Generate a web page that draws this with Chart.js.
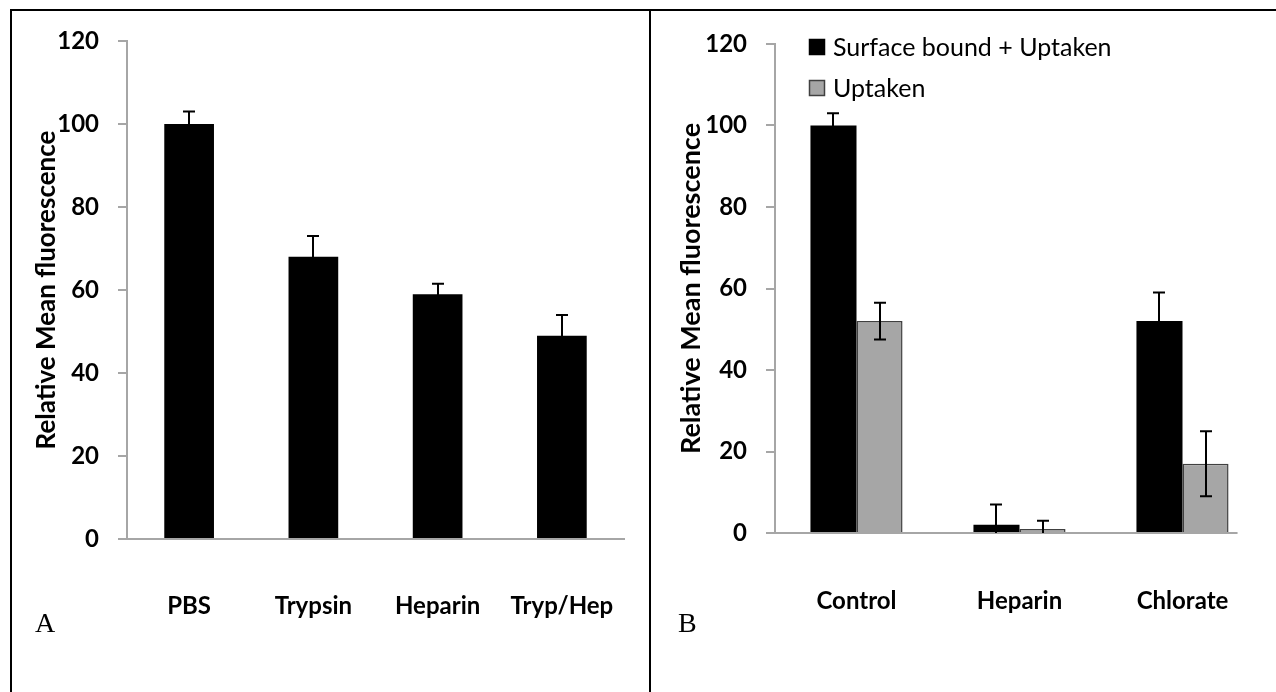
<!DOCTYPE html>
<html>
<head>
<meta charset="utf-8">
<script src="https://cdn.jsdelivr.net/npm/chart.js@4.4.1/dist/chart.umd.min.js"></script>
<style>
  html, body { margin: 0; padding: 0; background: #fff; }
  body { width: 1276px; height: 692px; position: relative; overflow: hidden; }
  canvas { position: absolute; top: 0; }
  #panelA { left: 0; }
  #panelB { left: 650px; }
  .rule { position: absolute; background: #000; z-index: 2; }
</style>
</head>
<body>
<div class="rule" style="left:10px; top:9px; width:1266px; height:2px;"></div>
<div class="rule" style="left:10px; top:9px; width:2px; height:683px;"></div>
<div class="rule" style="left:649px; top:9px; width:2px; height:683px;"></div>
<canvas id="panelA" width="650" height="692"></canvas>
<canvas id="panelB" width="626" height="692"></canvas>
<script>
// Panel A: treatments before binding
const categoriesA = ['PBS', 'Trypsin', 'Heparin', 'Tryp/Hep'];
const meanA = [100, 68, 59, 49];
const errA = [3, 5, 2.5, 5];

// Panel B: total vs. internalised signal
const categoriesB = ['Control', 'Heparin', 'Chlorate'];
const boundUptaken = [100, 2, 52];
const boundUptakenErr = [3, 5, 7];
const uptakenOnly = [52, 1, 17];
const uptakenOnlyErr = [4.5, 2, 8];

const yTickValues = [0, 20, 40, 60, 80, 100, 120];
const yTitle = 'Relative Mean fluorescence';

const SANS = 'Lato, "Open Sans", "DejaVu Sans", sans-serif';
const AXIS_GREY = '#a6a6a6';

// Error bars (symmetric, clipped to the plot area)
const errorBars = {
  id: 'errorBars',
  afterDatasetsDraw(chart) {
    const { ctx, chartArea } = chart;
    const y = chart.scales.y;
    ctx.save();
    ctx.beginPath();
    ctx.rect(chartArea.left, 0, chartArea.right - chartArea.left, chartArea.bottom);
    ctx.clip();
    ctx.strokeStyle = '#000';
    ctx.lineWidth = 2;
    chart.data.datasets.forEach((ds, i) => {
      const meta = chart.getDatasetMeta(i);
      meta.data.forEach((el, j) => {
        const v = ds.data[j], e = ds.errors[j];
        const x = Math.round(el.x);
        const yHi = y.getPixelForValue(v + e);
        const yLo = y.getPixelForValue(v - e);
        ctx.beginPath();
        ctx.moveTo(x, yHi); ctx.lineTo(x, yLo);
        ctx.moveTo(x - 6, yHi); ctx.lineTo(x + 6, yHi);
        ctx.moveTo(x - 6, yLo); ctx.lineTo(x + 6, yLo);
        ctx.stroke();
      });
    });
    ctx.restore();
  }
};

// Panel letter under the axis
const panelLetter = {
  id: 'panelLetter',
  afterDraw(chart, args, opts) {
    const { ctx } = chart;
    ctx.save();
    ctx.font = '28px "Liberation Serif", "Times New Roman", serif';
    ctx.fillStyle = '#000';
    ctx.textBaseline = 'alphabetic';
    ctx.fillText(opts.text, opts.x, opts.y);
    ctx.restore();
  }
};

// Category baseline ending just past the last bar
const baseline = {
  id: 'baseline',
  beforeDatasetsDraw(chart, args, opts) {
    if (!opts.enabled) return;
    const { ctx, chartArea } = chart;
    const last = chart.getDatasetMeta(chart.data.datasets.length - 1).data;
    const el = last[last.length - 1];
    const right = el.x + el.width / 2 + 9;
    const yPix = Math.round(chart.scales.y.getPixelForValue(0));
    ctx.save();
    ctx.strokeStyle = AXIS_GREY;
    ctx.lineWidth = 2;
    ctx.beginPath();
    ctx.moveTo(chartArea.left, yPix);
    ctx.lineTo(right, yPix);
    ctx.stroke();
    ctx.restore();
  }
};

// Stacked legend in the upper-left of the plot
const stackedLegend = {
  id: 'stackedLegend',
  afterDraw(chart, args, opts) {
    if (!opts.enabled) return;
    const { ctx, chartArea } = chart;
    ctx.save();
    ctx.font = '25px ' + SANS;
    ctx.textBaseline = 'middle';
    chart.data.datasets.forEach((ds, i) => {
      const cy = opts.top + i * opts.step;
      const sx = chartArea.left + opts.offset;
      ctx.fillStyle = ds.backgroundColor;
      ctx.fillRect(sx, cy - 8, 16, 16);
      ctx.strokeStyle = ds.borderColor;
      ctx.lineWidth = 1.5;
      ctx.strokeRect(sx + 0.5, cy - 7.5, 15, 15);
      ctx.fillStyle = '#000';
      ctx.fillText(ds.label, sx + 24, cy + 1);
    });
    ctx.restore();
  }
};

function makeOptions(cfg) {
  return {
    responsive: false,
    animation: false,
    devicePixelRatio: 1,
    layout: { padding: { top: cfg.top, right: cfg.right, left: 0, bottom: 0 } },
    plugins: {
      legend: { display: false },
      tooltip: { enabled: false },
      panelLetter: cfg.letter,
      baseline: { enabled: cfg.customBaseline },
      stackedLegend: cfg.legend || { enabled: false }
    },
    scales: {
      x: {
        grid: { display: false },
        border: { display: !cfg.customBaseline, color: AXIS_GREY, width: 2 },
        ticks: {
          color: '#000',
          // tall line box drops the single-line labels well below the axis
          font: { family: SANS, size: 24, weight: 'bold', lineHeight: cfg.xLineHeight },
          padding: 24,
          maxRotation: 0,
          autoSkip: false
        },
        afterFit(scale) { scale.height = cfg.xHeight; }
      },
      y: {
        min: 0,
        max: 120,
        afterBuildTicks(scale) { scale.ticks = yTickValues.map(v => ({ value: v })); },
        grid: {
          display: true,
          drawOnChartArea: false,
          drawTicks: true,
          tickLength: 9,
          color: AXIS_GREY,
          lineWidth: 2
        },
        border: { display: true, color: AXIS_GREY, width: 2 },
        ticks: {
          color: '#000',
          font: { family: SANS, size: 24, weight: 'bold' },
          padding: 19
        },
        title: {
          display: true,
          text: yTitle,
          color: '#000',
          font: { family: SANS, size: cfg.titleSize, weight: 'bold' },
          padding: { top: cfg.titlePad, bottom: 0 }
        },
        afterFit(scale) { scale.width = cfg.yWidth; }
      }
    }
  };
}

new Chart(document.getElementById('panelA'), {
  type: 'bar',
  data: {
    labels: categoriesA,
    datasets: [{
      label: 'Relative mean fluorescence',
      data: meanA,
      errors: errA,
      backgroundColor: '#000',
      borderColor: '#000',
      borderWidth: 0,
      categoryPercentage: 0.4,
      barPercentage: 1
    }]
  },
  options: makeOptions({
    top: 41, right: 26, xHeight: 153, yWidth: 127,
    titleSize: 26, titlePad: 31, xLineHeight: '71px',
    customBaseline: false,
    letter: { text: 'A', x: 35, y: 632 }
  }),
  plugins: [errorBars, panelLetter, baseline, stackedLegend]
});

new Chart(document.getElementById('panelB'), {
  type: 'bar',
  data: {
    labels: categoriesB,
    datasets: [{
      label: 'Surface bound + Uptaken',
      data: boundUptaken,
      errors: boundUptakenErr,
      backgroundColor: '#000',
      borderColor: '#000',
      borderWidth: 0,
      categoryPercentage: 0.565,
      barPercentage: 1
    }, {
      label: 'Uptaken',
      data: uptakenOnly,
      errors: uptakenOnlyErr,
      backgroundColor: '#a6a6a6',
      borderColor: '#404040',
      borderWidth: 1.5,
      categoryPercentage: 0.565,
      barPercentage: 1
    }]
  },
  options: makeOptions({
    top: 44, right: 12, xHeight: 159, yWidth: 125,
    titleSize: 27, titlePad: 25, xLineHeight: '73px',
    customBaseline: true,
    letter: { text: 'B', x: 28, y: 632 },
    legend: { enabled: true, top: 47, step: 41, offset: 34 }
  }),
  plugins: [errorBars, panelLetter, baseline, stackedLegend]
});
</script>
</body>
</html>
